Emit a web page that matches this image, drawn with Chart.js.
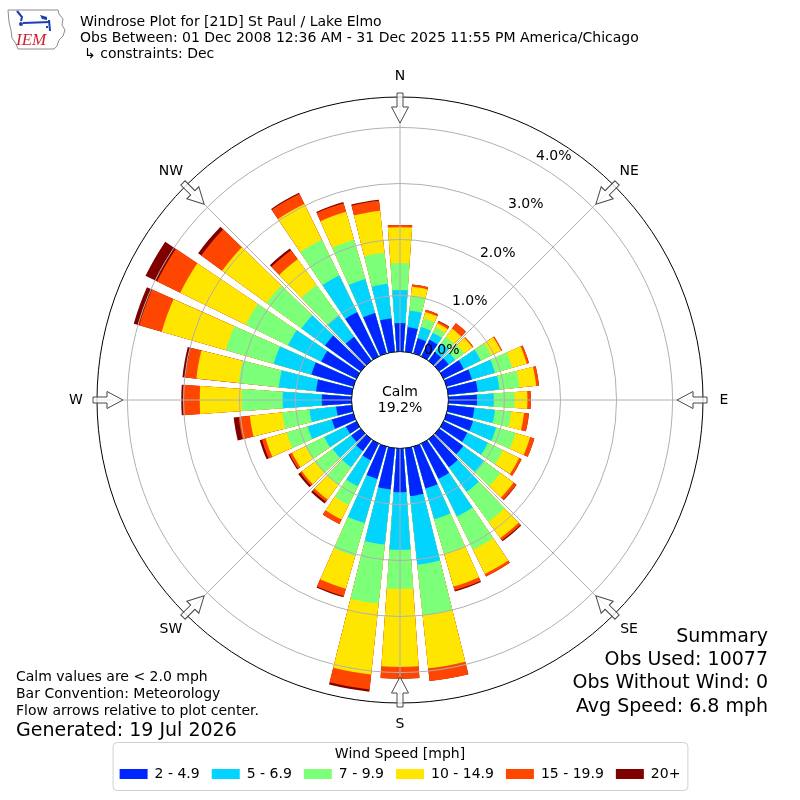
<!DOCTYPE html>
<html>
<head>
<meta charset="utf-8">
<title>Windrose Plot for [21D] St Paul / Lake Elmo</title>
<script src="https://cdn.jsdelivr.net/npm/chart.js@4.4.1/dist/chart.umd.min.js"></script>
<style>
  html, body { margin: 0; padding: 0; background: #fff; }
  #wrap { width: 800px; height: 800px; }
</style>
</head>
<body>
<div id="wrap"><canvas id="windrose" width="800" height="800"></canvas></div>
<script>
// Direction bins (deg, where the wind blows from)
const directions = [0, 10, 20, 30, 40, 50, 60, 70, 80, 90, 100, 110, 120, 130, 140, 150, 160, 170,
  180, 190, 200, 210, 220, 230, 240, 250, 260, 270, 280, 290, 300, 310, 320, 330, 340, 350];

const speedBins = ['2 - 4.9', '5 - 6.9', '7 - 9.9', '10 - 14.9', '15 - 19.9', '20+'];
const binColors = ['#0026ff', '#00d4ff', '#7cff79', '#ffe600', '#ff4600', '#800000'];

// percent of all obs, one value per direction
const spd2to5 = [0.51, 0.44, 0.28, 0.33, 0.19, 0.21, 0.40, 0.47, 0.53, 0.51, 0.47, 0.49, 0.47, 0.53, 0.62, 0.70, 0.78, 0.86,
  0.78, 0.74, 0.60, 0.33, 0.26, 0.21, 0.21, 0.40, 0.28, 0.53, 0.64, 0.78, 0.70, 0.79, 0.53, 0.88, 0.75, 0.60];
const spd5to7 = [0.59, 0.30, 0.21, 0.14, 0.20, 0.14, 0.34, 0.43, 0.39, 0.30, 0.37, 0.43, 0.41, 0.45, 0.54, 0.75, 0.57, 1.23,
  1.03, 0.99, 0.82, 0.52, 0.36, 0.41, 0.43, 0.45, 0.48, 0.70, 0.67, 0.70, 0.66, 0.52, 0.46, 0.73, 0.63, 0.62];
const spd7to10 = [0.48, 0.27, 0.16, 0.11, 0.14, 0.20, 0.21, 0.32, 0.36, 0.37, 0.29, 0.36, 0.30, 0.37, 0.66, 0.66, 0.64, 0.91,
  0.70, 1.06, 0.61, 0.37, 0.39, 0.39, 0.37, 0.39, 0.49, 0.73, 0.72, 0.89, 0.84, 0.77, 0.68, 0.71, 0.73, 0.56];
const spd10to15 = [0.64, 0.16, 0.12, 0.08, 0.18, 0.18, 0.19, 0.27, 0.30, 0.23, 0.23, 0.27, 0.32, 0.29, 0.36, 0.48, 0.61, 0.95,
  1.39, 1.27, 0.61, 0.29, 0.32, 0.29, 0.27, 0.39, 0.58, 0.75, 0.76, 1.19, 1.30, 0.98, 0.57, 0.71, 0.52, 0.75];
const spd15to20 = [0.04, 0.04, 0.04, 0.04, 0.12, 0.02, 0.02, 0.04, 0.05, 0.06, 0.09, 0.08, 0.05, 0.06, 0.05, 0.05, 0.07, 0.23,
  0.21, 0.27, 0.14, 0.09, 0.05, 0.04, 0.05, 0.07, 0.20, 0.30, 0.20, 0.42, 0.46, 0.46, 0.20, 0.20, 0.16, 0.18];
const spd20plus = [0, 0, 0, 0.01, 0, 0, 0, 0, 0, 0, 0, 0, 0, 0.01, 0.02, 0, 0.02, 0,
  0, 0.04, 0.02, 0, 0.04, 0.04, 0.02, 0.04, 0.09, 0.03, 0.05, 0.10, 0.23, 0.07, 0.04, 0.02, 0.02, 0.02];

const calmPct = 19.2;
const radialTicks = [0, 1, 2, 3, 4];
const compass = ['N', 'NE', 'E', 'SE', 'S', 'SW', 'W', 'NW'];

const rMin = -0.865;   // leaves room for the calm circle
const rMax = 4.544;
const barSpan = 8;     // degrees of each 10 deg sector that the bar fills

const titleLines = ['Windrose Plot for [21D] St Paul / Lake Elmo',
  'Obs Between: 01 Dec 2008 12:36 AM - 31 Dec 2025 11:55 PM America/Chicago',
  '\u21b3 constraints: Dec'];
const noteLines = ['Calm values are < 2.0 mph', 'Bar Convention: Meteorology', 'Flow arrows relative to plot center.'];
const generated = 'Generated: 19 Jul 2026';
const summaryLines = ['Summary', 'Obs Used: 10077', 'Obs Without Wind: 0', 'Avg Speed: 6.8 mph'];

Chart.defaults.font.family = "'DejaVu Sans', sans-serif";
Chart.defaults.color = '#000';

// stacked look: each dataset is the running total, smallest one on top
const binSeries = [spd2to5, spd5to7, spd7to10, spd10to15, spd15to20, spd20plus];
const cumulative = binSeries.map((_, b) =>
  directions.map((d, i) => binSeries.slice(0, b + 1).reduce((sum, arr) => sum + arr[i], 0)));

// every direction gets a bar slot and a gap slot
const labels = [];
directions.forEach(d => { labels.push(d + '\u00b0'); labels.push(''); });

const datasets = cumulative.map((cum, b) => ({
  label: speedBins[b],
  data: cum.flatMap(v => [v, 0]),
  backgroundColor: ctx => ctx.dataIndex % 2 === 0 ? binColors[b] : 'rgba(0,0,0,0)',
  borderWidth: 0,
  angle: ctx => ctx.dataIndex % 2 === 0 ? barSpan : 10 - barSpan
}));

function text(ctx, str, x, y, size, align) {
  ctx.font = size + "px 'DejaVu Sans', sans-serif";
  ctx.textAlign = align || 'left';
  ctx.fillStyle = '#000';
  ctx.fillText(str, x, y);
}

function drawLogo(ctx) {
  ctx.save();
  ctx.strokeStyle = '#8c8c8c';
  ctx.lineWidth = 1;
  ctx.beginPath();
  ctx.moveTo(8, 10); ctx.lineTo(58, 10); ctx.lineTo(59, 14); ctx.lineTo(63, 19);
  ctx.lineTo(62, 25); ctx.lineTo(65, 30); ctx.lineTo(63, 36); ctx.lineTo(59, 40);
  ctx.lineTo(57, 46); ctx.lineTo(54, 49); ctx.lineTo(18, 49); ctx.lineTo(16, 44);
  ctx.lineTo(12, 38); ctx.lineTo(11, 30); ctx.lineTo(9, 22);
  ctx.closePath();
  ctx.stroke();

  ctx.strokeStyle = '#1b3fb0';
  ctx.fillStyle = '#1b3fb0';
  ctx.lineWidth = 2;
  ctx.beginPath(); ctx.moveTo(17, 11); ctx.lineTo(22, 17); ctx.lineTo(21, 21); ctx.stroke();
  ctx.beginPath(); ctx.moveTo(23, 23); ctx.lineTo(50, 22); ctx.stroke();
  ctx.beginPath(); ctx.arc(21, 24, 2, 0, Math.PI * 2); ctx.fill();
  ctx.beginPath(); ctx.moveTo(40, 15); ctx.lineTo(47, 17); ctx.lineTo(47, 20); ctx.lineTo(42, 19); ctx.closePath(); ctx.fill();
  ctx.beginPath(); ctx.moveTo(49, 20); ctx.lineTo(50, 31); ctx.stroke();
  ctx.fillRect(46, 26, 2, 2);

  ctx.fillStyle = '#cc1f2f';
  ctx.font = "italic 17px 'Liberation Serif', serif";
  ctx.textAlign = 'left';
  ctx.fillText('IEM', 16, 45);
  ctx.restore();
}

const windroseDecor = {
  id: 'windroseDecor',
  afterDatasetsDraw(chart) {
    const s = chart.scales.r;
    const ctx = chart.ctx;
    ctx.save();
    ctx.beginPath();
    ctx.arc(s.xCenter, s.yCenter, s.getDistanceFromCenterForValue(0), 0, Math.PI * 2);
    ctx.fillStyle = '#fff';
    ctx.fill();
    ctx.restore();
  },
  afterDraw(chart) {
    const s = chart.scales.r;
    const ctx = chart.ctx;
    const cx = s.xCenter, cy = s.yCenter;
    const r0 = s.getDistanceFromCenterForValue(0);
    const rOut = s.getDistanceFromCenterForValue(rMax);
    ctx.save();

    // spokes
    ctx.strokeStyle = '#b0b0b0';
    ctx.lineWidth = 1;
    compass.forEach((c, i) => {
      const a = i * Math.PI / 4;
      ctx.beginPath();
      ctx.moveTo(cx + r0 * Math.sin(a), cy - r0 * Math.cos(a));
      ctx.lineTo(cx + rOut * Math.sin(a), cy - rOut * Math.cos(a));
      ctx.stroke();
    });

    // flow arrows + compass labels
    compass.forEach((c, i) => {
      const a = i * Math.PI / 4;
      ctx.save();
      ctx.translate(cx, cy);
      ctx.rotate(a);
      ctx.beginPath();
      ctx.moveTo(-3, -(rOut + 4));
      ctx.lineTo(3, -(rOut + 4));
      ctx.lineTo(3, -(rOut - 10));
      ctx.lineTo(8.5, -(rOut - 10));
      ctx.lineTo(0, -(rOut - 26));
      ctx.lineTo(-8.5, -(rOut - 10));
      ctx.lineTo(-3, -(rOut - 10));
      ctx.closePath();
      ctx.fillStyle = 'rgba(255,255,255,0.75)';
      ctx.fill();
      ctx.strokeStyle = '#4a4a4a';
      ctx.lineWidth = 1;
      ctx.stroke();
      ctx.restore();

      ctx.textBaseline = 'middle';
      text(ctx, c, cx + (rOut + 21) * Math.sin(a), cy - (rOut + 21) * Math.cos(a), 14, 'center');
    });

    // radial labels
    ctx.textBaseline = 'middle';
    radialTicks.forEach(v => {
      const r = s.getDistanceFromCenterForValue(v);
      const a = Math.PI / 6;
      text(ctx, v.toFixed(1) + '%', cx + r * Math.sin(a) + 17.5, cy - r * Math.cos(a) - 8, 14, 'center');
    });

    // calm
    ctx.textBaseline = 'alphabetic';
    text(ctx, 'Calm', cx, cy - 4.5, 14, 'center');
    text(ctx, calmPct.toFixed(1) + '%', cx, cy + 11.5, 14, 'center');

    // header
    drawLogo(ctx);
    text(ctx, titleLines[0], 80, 25.5, 14);
    text(ctx, titleLines[1], 80, 41.5, 14);
    text(ctx, titleLines[2], 84, 57.5, 14);

    // footnotes
    noteLines.forEach((t, i) => text(ctx, t, 16, 681 + i * 17, 14));
    text(ctx, generated, 16, 736, 19);
    summaryLines.forEach((t, i) => text(ctx, t, 768, 641.7 + i * 23.3, 19, 'right'));

    // legend frame
    const lg = chart.legend;
    const hb = lg.legendHitBoxes;
    const left = Math.min(...hb.map(h => h.left)) - 7;
    const right = Math.max(...hb.map(h => h.left + h.width)) + 7;
    const top = lg.top + 39;
    const bottom = hb[0].top + hb[0].height + 9;
    ctx.beginPath();
    if (ctx.roundRect) ctx.roundRect(left + 0.5, top + 0.5, right - left, bottom - top, 4);
    else ctx.rect(left + 0.5, top + 0.5, right - left, bottom - top);
    ctx.strokeStyle = '#d0d0d0';
    ctx.lineWidth = 1;
    ctx.stroke();

    ctx.restore();
  }
};

new Chart(document.getElementById('windrose'), {
  type: 'polarArea',
  data: { labels: labels, datasets: datasets },
  options: {
    responsive: false,
    animation: false,
    events: [],
    layout: { padding: { top: 97, left: 97, right: 97, bottom: 9 } },
    scales: {
      r: {
        min: rMin,
        max: rMax,
        startAngle: -barSpan / 2,
        afterBuildTicks: scale => {
          scale.ticks = radialTicks.concat([rMax]).map(v => ({ value: v }));
        },
        ticks: { display: false },
        pointLabels: { display: false },
        angleLines: { display: false },
        grid: {
          z: 1,
          circular: true,
          lineWidth: 1,
          color: ctx => (ctx.tick.value === 0 || ctx.tick.value === rMax) ? '#000' : '#b0b0b0'
        }
      }
    },
    plugins: {
      tooltip: { enabled: false },
      legend: {
        position: 'bottom',
        onClick: null,
        title: {
          display: true,
          text: 'Wind Speed [mph]',
          color: '#000',
          font: { size: 14 },
          padding: { top: 44, bottom: -8.8 }
        },
        labels: {
          boxWidth: 28,
          boxHeight: 10,
          padding: 12,
          color: '#000',
          font: { size: 14 },
          generateLabels: () => speedBins.map((t, i) => ({
            text: t,
            fillStyle: binColors[i],
            strokeStyle: binColors[i],
            lineWidth: 0,
            hidden: false,
            index: i
          }))
        }
      }
    }
  },
  plugins: [windroseDecor]
});
</script>
</body>
</html>
